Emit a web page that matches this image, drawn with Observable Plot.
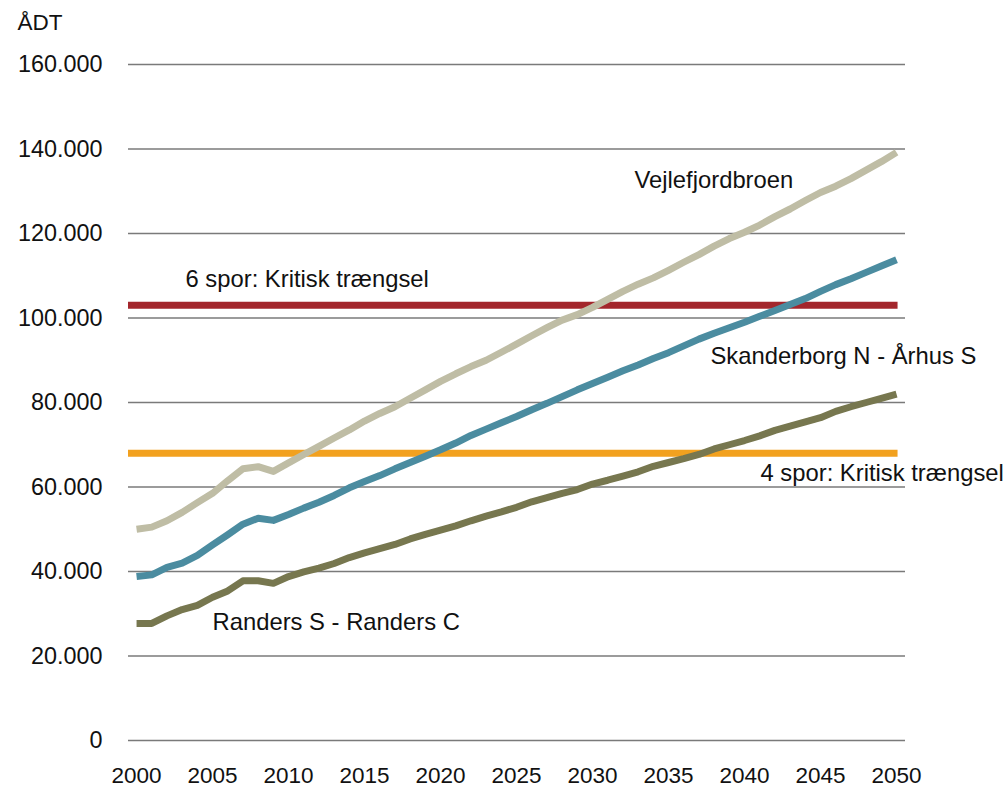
<!DOCTYPE html>
<html>
<head>
<meta charset="utf-8">
<script src="https://cdn.jsdelivr.net/npm/d3@7"></script>
<script src="https://cdn.jsdelivr.net/npm/@observablehq/plot@0.6"></script>
<style>
  html, body { margin: 0; padding: 0; background: #fff; }
  #chart svg { display: block; }
</style>
</head>
<body>
<div id="chart"></div>
<script>
const years = d3.range(2000, 2051);
const vejlefjordbroen = [50000, 50500, 52000, 54000, 56300, 58500, 61500, 64300, 64800, 63700,
  65700, 67700, 69600, 71600, 73500, 75600, 77400, 79000, 81000, 83000,
  85000, 86800, 88500, 90000, 91900, 93800, 95800, 97700, 99500, 100800,
  102500, 104400, 106300, 108000, 109500, 111300, 113200, 115000, 117000, 118800,
  120300, 122000, 124000, 125800, 127800, 129700, 131200, 133000, 135000, 137000, 139200];
const skanderborg = [38800, 39200, 41000, 42000, 43800, 46300, 48700, 51200, 52600, 52100,
  53500, 55000, 56400, 58000, 59800, 61300, 62700, 64300, 65800, 67300,
  68800, 70400, 72200, 73700, 75200, 76700, 78300, 79800, 81400, 83000,
  84500, 86000, 87500, 88900, 90400, 91800, 93400, 95000, 96400, 97700,
  99000, 100400, 101800, 103200, 104600, 106300, 107900, 109300, 110800, 112300, 113800];
const randers = [27700, 27700, 29500, 31000, 32000, 33900, 35400, 37800, 37800, 37200,
  38800, 39900, 40800, 41900, 43300, 44400, 45400, 46400, 47700, 48800,
  49800, 50800, 52000, 53100, 54100, 55200, 56500, 57500, 58500, 59400,
  60700, 61600, 62600, 63600, 64900, 65800, 66700, 67700, 69000, 70000,
  71000, 72100, 73400, 74400, 75400, 76400, 77900, 79000, 80000, 81000, 82000];

const seriesNames = ["Vejlefjordbroen", "Skanderborg N - Århus S", "Randers S - Randers C"];
const seriesValues = [vejlefjordbroen, skanderborg, randers];
const seriesColors = ["#bfbda5", "#4b8ca0", "#77774f"];

const thresholdNames = ["6 spor: Kritisk trængsel", "4 spor: Kritisk trængsel"];
const thresholdValues = [103000, 68000];
const thresholdColors = ["#a3262c", "#f2a11f"];

const labelTexts = ["Vejlefjordbroen", "6 spor: Kritisk trængsel", "Skanderborg N - Århus S", "4 spor: Kritisk trængsel", "Randers S - Randers C"];
const labelYears = [2032.76, 2003.22, 2037.76, 2041.05, 2005.0];
const labelValues = [132500, 109100, 90900, 63200, 27900];

const yTicks = [0, 20000, 40000, 60000, 80000, 100000, 120000, 140000, 160000];
const xTicks = d3.range(2000, 2051, 5);

const lineData = seriesNames.flatMap((name, i) =>
  years.map((yr, j) => ({series: name, year: yr, value: seriesValues[i][j]})));
const thresholds = thresholdNames.map((name, i) => ({name, value: thresholdValues[i], color: thresholdColors[i]}));
const labels = labelTexts.map((t, i) => ({text: t, year: labelYears[i], value: labelValues[i]}));

const xDomain = [1999.47, 2050.59];
const fmt = v => v === 0 ? "0" : d3.format(",")(v).replace(/,/g, ".");

const chart = Plot.plot({
  width: 1003,
  height: 788,
  marginLeft: 128,
  marginRight: 98,
  marginTop: 64,
  marginBottom: 48,
  style: {fontFamily: "'Liberation Sans', Arial, sans-serif", fontSize: "22px", color: "#111", background: "#fff"},
  x: {domain: xDomain, ticks: xTicks, tickFormat: d => String(d), tickSize: 0, tickPadding: 27, label: null},
  y: {domain: [0, 160000], ticks: yTicks, tickFormat: fmt, tickSize: 0, tickPadding: 26, label: null},
  color: {domain: seriesNames, range: seriesColors},
  marks: [
    Plot.gridY(yTicks, {stroke: "#7a7a7a", strokeOpacity: 1, strokeWidth: 1.6}),
    Plot.ruleY(thresholds, {y: "value", x1: xDomain[0], x2: 2050.1, stroke: "color", strokeWidth: 7}),
    Plot.line(lineData, {x: "year", y: "value", z: "series", stroke: "series", strokeWidth: 7, strokeLinejoin: "round", strokeLinecap: "butt"}),
    Plot.text(labels, {x: "year", y: "value", text: "text", textAnchor: "start", fontSize: 23.8, fill: "#111"}),
    Plot.text(["ÅDT"], {frameAnchor: "top-left", dx: -111, dy: -42, lineAnchor: "middle", textAnchor: "start", fontSize: 22.5, fill: "#111"}),
    Plot.axisX({ticks: xTicks, tickFormat: d => String(d), tickSize: 0, tickPadding: 27, fontSize: 22.5}),
    Plot.axisY({ticks: yTicks, tickFormat: fmt, tickSize: 0, tickPadding: 26, fontSize: 23.4})
  ]
});
document.getElementById("chart").appendChild(chart);
</script>
</body>
</html>
